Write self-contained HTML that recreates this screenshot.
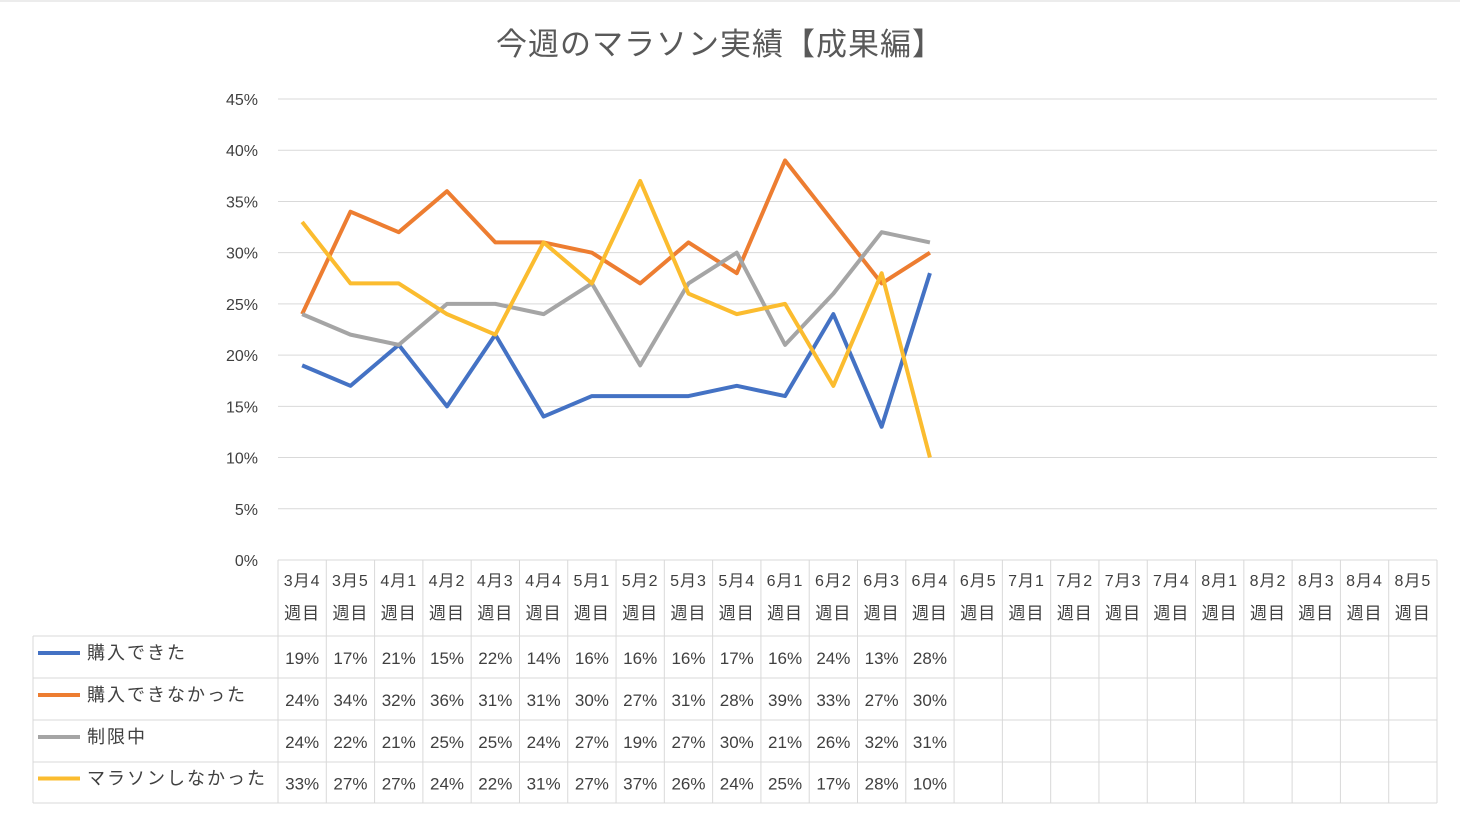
<!DOCTYPE html>
<html><head><meta charset="utf-8"><style>
body{margin:0;background:#fff;font-family:"Liberation Sans","Noto Sans CJK JP",sans-serif;}
svg text{font-family:"Liberation Sans","Noto Sans CJK JP",sans-serif;fill:#404040;}
</style></head><body>
<svg id="c" width="1460" height="812" xmlns="http://www.w3.org/2000/svg">
<line x1="0" y1="1" x2="1460" y2="1" stroke="#d9d9d9"/>
<text x="720" y="55" text-anchor="middle" font-size="31" letter-spacing="1" style="fill:#595959">今週のマラソン実績【成果編】</text>
</svg>
<script>
const categories=["3月4週目","3月5週目","4月1週目","4月2週目","4月3週目","4月4週目","5月1週目","5月2週目","5月3週目","5月4週目","6月1週目","6月2週目","6月3週目","6月4週目","6月5週目","7月1週目","7月2週目","7月3週目","7月4週目","8月1週目","8月2週目","8月3週目","8月4週目","8月5週目"];
const seriesNames=["購入できた","購入できなかった","制限中","マラソンしなかった"];
const bought=[19,17,21,15,22,14,16,16,16,17,16,24,13,28];
const notBought=[24,34,32,36,31,31,30,27,31,28,39,33,27,30];
const limited=[24,22,21,25,25,24,27,19,27,30,21,26,32,31];
const noMarathon=[33,27,27,24,22,31,27,37,26,24,25,17,28,10];
const yTicks=[0,5,10,15,20,25,30,35,40,45];
const colors=["#4472c4","#ed7d31","#a5a5a5","#fbbc2f"];
const series=[bought,notBought,limited,noMarathon];
const svg=document.getElementById('c');const NS="http://www.w3.org/2000/svg";
const X0=278,X1=1437,Y0=560,Y45=99;
const cw=(X1-X0)/categories.length;
const xs=i=>X0+cw*(i+0.5);
const ys=v=>Y0-(v/45)*(Y0-Y45);
function mk(t,a,p){const e=document.createElementNS(NS,t);for(const k in a)e.setAttribute(k,a[k]);(p||svg).appendChild(e);return e;}
yTicks.forEach(t=>{
 if(t>0){const g=mk('line',{x1:X0,x2:X1,y1:ys(t),y2:ys(t),stroke:'#d9d9d9','stroke-width':1});
 
 }
 const l=mk('text',{x:258,y:ys(t)+6,'text-anchor':'end','font-size':16});l.textContent=t+'%';
 
 
});
const rowsY=[560,636,678,720,762,803];
const gs='#d9d9d9';
mk('line',{x1:X0,x2:X1,y1:560,y2:560,stroke:gs});
for(let r=1;r<rowsY.length;r++)mk('line',{x1:33,x2:X1,y1:rowsY[r],y2:rowsY[r],stroke:gs});
for(let i=0;i<=categories.length;i++)mk('line',{x1:X0+cw*i,x2:X0+cw*i,y1:560,y2:803,stroke:gs});
mk('line',{x1:33,x2:33,y1:636,y2:803,stroke:gs});
categories.forEach((c,i)=>{
 const t=mk('text',{x:xs(i),y:586,'text-anchor':'middle','font-size':16,'letter-spacing':1});t.textContent=c.slice(0,3);
 
 
 const t2=mk('text',{x:xs(i),y:619,'text-anchor':'middle','font-size':17,'letter-spacing':1});t2.textContent=c.slice(3);
});
series.forEach((s,k)=>{
 const cy=(rowsY[k+1]+rowsY[k+2])/2;
 const lg=mk('line',{x1:38,x2:80,y1:cy-4,y2:cy-4,stroke:colors[k],'stroke-width':4});
 
 
 const lt=mk('text',{x:87,y:cy+2,'font-size':18,'letter-spacing':2});lt.textContent=seriesNames[k];
 
 
 s.forEach((v,i)=>{const t=mk('text',{x:xs(i),y:cy+7,'text-anchor':'middle','font-size':17});t.textContent=v+'%';
 
 });
 const p=mk('polyline',{points:s.map((v,i)=>xs(i)+','+ys(v)).join(' '),fill:'none',stroke:colors[k],'stroke-width':4,'stroke-linejoin':'round'});
 
 
});
</script>
</body></html>
